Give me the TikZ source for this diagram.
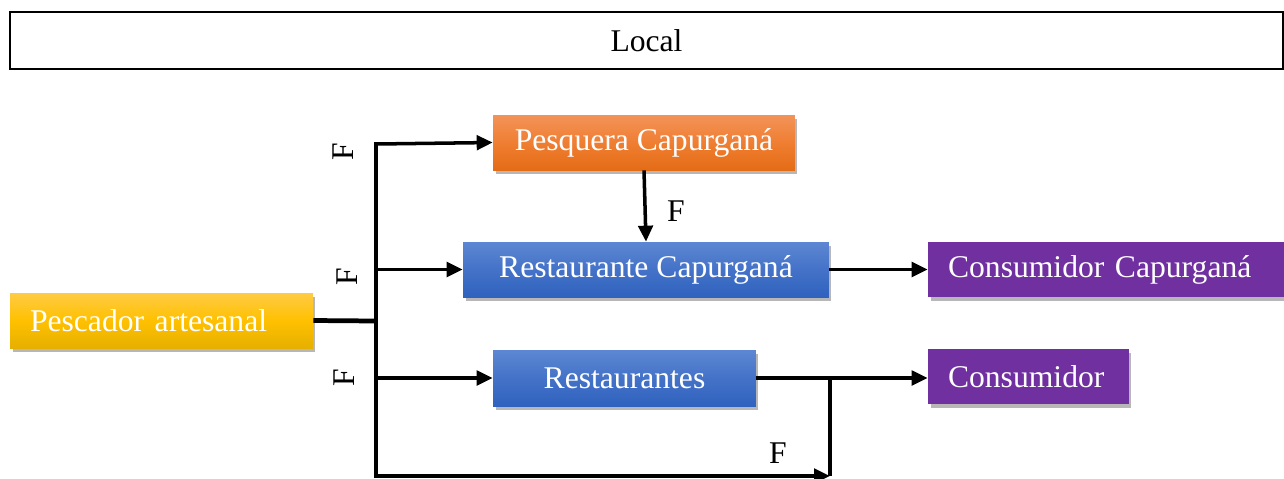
\documentclass[tikz,border=0pt]{standalone}
\usepackage{fontspec}
\setmainfont{Liberation Serif}
\usetikzlibrary{arrows.meta,shadows}
\definecolor{ylT}{HTML}{FFCB45}
\definecolor{ylM}{HTML}{FFC000}
\definecolor{ylB}{HTML}{E6B000}
\definecolor{orT}{HTML}{F2935A}
\definecolor{orM}{HTML}{F07E32}
\definecolor{orB}{HTML}{E36C16}
\definecolor{blT}{HTML}{5D87D2}
\definecolor{blM}{HTML}{4472C8}
\definecolor{blB}{HTML}{2F62BE}
\definecolor{pu}{HTML}{7030A0}
\tikzset{
  box/.style={rectangle, inner sep=0pt, text=white, font=\fontsize{18}{21}\selectfont,
    drop shadow={shadow xshift=0.05cm, shadow yshift=-0.08cm, opacity=0.4, fill=black!70}},
  ybox/.style={box, top color=ylT, bottom color=ylB, middle color=ylM},
  obox/.style={box, top color=orT, bottom color=orB, middle color=orM},
  bbox/.style={box, top color=blT, bottom color=blB, middle color=blM},
  pbox/.style={box, fill=pu},
  conn/.style={line width=2pt},
  arr/.style={conn, -{Triangle[length=0.32cm,width=0.29cm]}},
  flab/.style={font=\fontsize{18}{21}\selectfont, inner sep=0pt},
}
\begin{document}
\begin{tikzpicture}[x=0.02cm,y=-0.02cm]
\useasboundingbox (0,0) rectangle (1284,478);
% Local
\node[draw, line width=1.3pt, minimum width=25.46cm, minimum height=1.14cm, inner sep=0pt,
  font=\fontsize{18}{21}\selectfont] (local) at (646.5,40.5) {Local};
% boxes
\node[ybox, minimum height=1.1cm, text width=5.26cm, inner xsep=0.4cm, align=left] (pesc) at (161.5,320.5) {Pescador artesanal};
\node[obox, minimum width=6.04cm, minimum height=1.1cm] (pesq) at (644,142.5) {Pesquera Capurganá};
\node[bbox, minimum width=7.32cm, minimum height=1.1cm] (restc) at (646,269.5) {Restaurante Capurganá};
\node[bbox, minimum width=5.26cm, minimum height=1.12cm] (rests) at (624.5,378) {Restaurantes};
\node[pbox, minimum height=1.1cm, text width=6.32cm, inner xsep=0.4cm, align=left] (consc) at (1106,269.5) {Consumidor Capurganá};
\node[pbox, minimum height=1.1cm, text width=3.22cm, inner xsep=0.4cm, align=left] (cons) at (1028.5,376.5) {Consumidor};
% coordinates
\coordinate (tj) at (376,321);
\coordinate (tt) at (376,144);
\coordinate (tb) at (376,476);
\coordinate (br) at (830,476);
\coordinate (bj) at (830,379);
% connectors
\draw[line width=2.7pt] (pesc.east) -- (tj);
\draw[line width=2.2pt, line cap=rect] (tt) -- (tb);
\draw[arr] (tt) -- (pesq.west);
\draw[arr] (tt |- restc.west) -- (restc.west);
\draw[arr] (tt |- rests.west) -- (rests.west);
\draw[arr] (tb) -- (br);
\draw[conn] (br) -- (bj);
\draw[arr] (rests.east) -- (cons.west |- rests.east);
\draw[arr] (restc.east) -- (consc.west);
\draw[arr] (pesq.south) -- (restc.north);
% labels
\node[flab, rotate=90] (f1) at (343,152) {F};
\node[flab, rotate=90] (f2) at (347,277) {F};
\node[flab, rotate=90] (f3) at (344,378) {F};
\node[flab] (f4) at (676,211) {F};
\node[flab] (f5) at (778,453) {F};
\end{tikzpicture}
\end{document}
